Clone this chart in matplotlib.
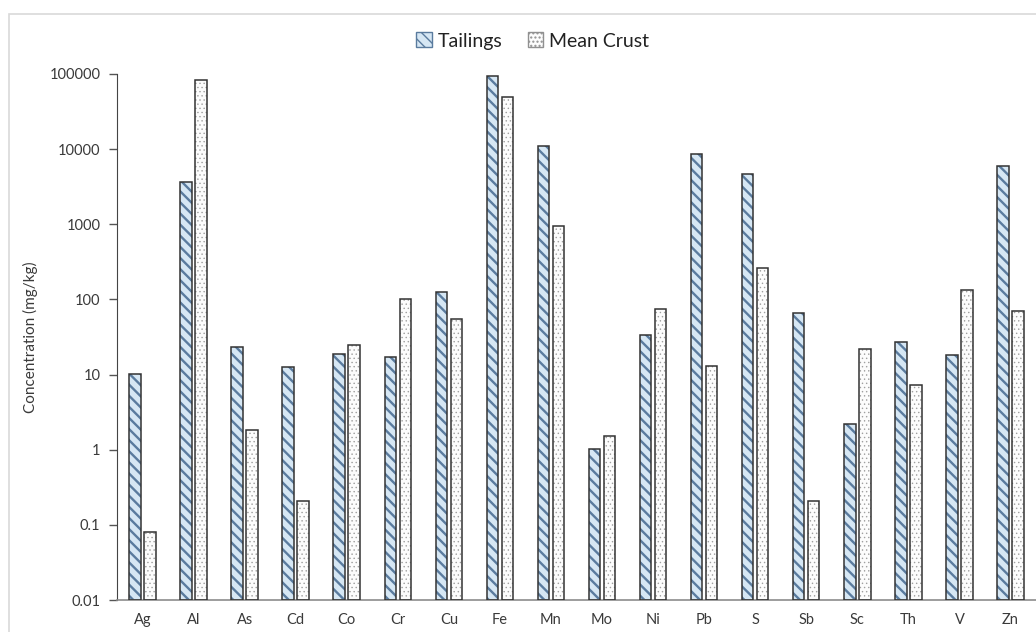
import numpy as np
import matplotlib.pyplot as plt
from matplotlib.patches import Patch, Rectangle
from matplotlib.ticker import FixedLocator, NullLocator

plt.rcParams['font.family'] = ['Lato', 'DejaVu Sans']

elements = ['Ag', 'Al', 'As', 'Cd', 'Co', 'Cr', 'Cu', 'Fe', 'Mn',
            'Mo', 'Ni', 'Pb', 'S', 'Sb', 'Sc', 'Th', 'V', 'Zn']
tailings = [10.2, 3700, 23, 12.5, 19, 17, 125, 93000, 11000,
            1.0, 34, 8700, 4700, 65, 2.2, 27, 18, 6000]
mean_crust = [0.07, 82000, 1.8, 0.2, 25, 100, 55, 50000, 950,
              1.5, 75, 13, 260, 0.2, 22, 7.2, 135, 70]
yticks = [0.01, 0.1, 1, 10, 100, 1000, 10000, 100000]
ytick_labels = ['0.01', '0.1', '1', '10', '100', '1000', '10000', '100000']

fig = plt.figure(figsize=(10.36, 6.32), dpi=100)
ax = fig.add_axes([0.1129, 0.0506, 0.8871, 0.8324])

# light grey border around the chart area
fig.patches.append(Rectangle((9 / 1036, -0.05), 1.1, 0.05 + (632 - 14) / 632,
                             transform=fig.transFigure, fill=False,
                             edgecolor='#d9d9d9', lw=1.2, zorder=0))

x = np.arange(len(elements))
w = 0.225
off = 0.147

# hatched fills first, outlines on top
with plt.rc_context({'hatch.linewidth': 1.7}):
    ax.bar(x - off, tailings, w, bottom=0.01, color='#d6e7f4', edgecolor='#5a7b9e',
           hatch='\\\\\\', lw=0, zorder=2)
    h_tail = Patch(facecolor='#d6e7f4', edgecolor='#5a7b9e', hatch='\\\\\\', label='Tailings')
with plt.rc_context({'hatch.linewidth': 0.5}):
    ax.bar(x + off, mean_crust, w, bottom=0.01, color='#fcfcfc', edgecolor='#a0a0a0',
           hatch='....', lw=0, zorder=2)
    h_crust = Patch(facecolor='#fcfcfc', edgecolor='#909090', hatch='....', label='Mean Crust')
ax.bar(x - off, tailings, w, bottom=0.01, fill=False, edgecolor='#333333', lw=1.1, zorder=3)
ax.bar(x + off, mean_crust, w, bottom=0.01, fill=False, edgecolor='#333333', lw=1.1, zorder=3)

ax.set_yscale('log')
ax.set_ylim(0.01, 100000)
ax.set_xlim(-0.5, len(elements) - 0.5)
ax.yaxis.set_major_locator(FixedLocator(yticks))
ax.yaxis.set_minor_locator(NullLocator())
ax.set_yticklabels(ytick_labels)
ax.set_xticks(x)
ax.set_xticklabels(elements)

ax.tick_params(axis='y', length=6, width=1, color='#555555', labelsize=10.5,
               labelcolor='#3a3a3a', pad=6)
ax.tick_params(axis='x', length=0, labelsize=10.5, labelcolor='#3a3a3a', pad=9)

for s in ['top', 'right']:
    ax.spines[s].set_visible(False)
ax.spines['left'].set_color('#444444')
ax.spines['bottom'].set_color('#8c8c8c')
ax.spines['bottom'].set_linewidth(1.2)

ax.set_ylabel('Concentration (mg/kg)', fontsize=11, color='#3a3a3a', labelpad=8)

fig.legend(handles=[h_tail, h_crust], loc='center', bbox_to_anchor=(0.514, 0.935), ncol=2,
           frameon=False, fontsize=14, handlelength=0.8, handleheight=0.8,
           handletextpad=0.3, columnspacing=1.3, labelcolor='#222222')

fig.savefig('out.png', dpi=100)
